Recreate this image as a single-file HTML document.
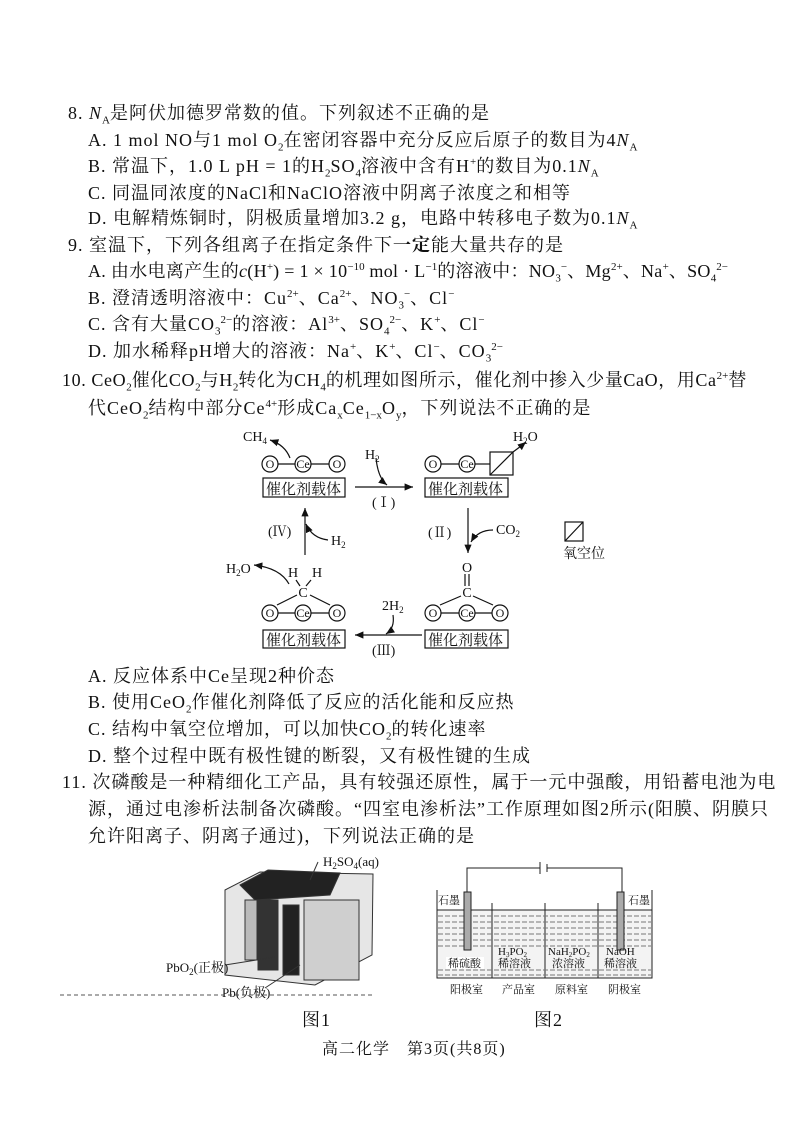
<!DOCTYPE html>
<html><head><meta charset="utf-8"><style>
body{margin:0;width:794px;height:1123px;background:#fff;position:relative;overflow:hidden;font-family:"Liberation Serif","Noto Serif CJK SC",serif;color:#111}
.t{position:absolute;font-size:18px;letter-spacing:1px;white-space:nowrap;line-height:20px}
sub,sup{font-size:11px;line-height:0;letter-spacing:0}
svg{position:absolute;left:0;top:0}
</style></head><body>
<div class="t" style="left:68px;top:103px">8. <i>N</i><sub>A</sub>是阿伏加德罗常数的值。下列叙述不正确的是</div>
<div class="t" style="left:88px;top:130px">A. 1 mol NO与1 mol O<sub>2</sub>在密闭容器中充分反应后原子的数目为4<i>N</i><sub>A</sub></div>
<div class="t" style="left:88px;top:156px">B. 常温下，1.0 L pH = 1的H<sub>2</sub>SO<sub>4</sub>溶液中含有H<sup>+</sup>的数目为0.1<i>N</i><sub>A</sub></div>
<div class="t" style="left:88px;top:183px">C. 同温同浓度的NaCl和NaClO溶液中阴离子浓度之和相等</div>
<div class="t" style="left:88px;top:208px">D. 电解精炼铜时，阴极质量增加3.2 g，电路中转移电子数为0.1<i>N</i><sub>A</sub></div>
<div class="t" style="left:68px;top:235px">9. 室温下，下列各组离子在指定条件下<b>一定</b>能大量共存的是</div>
<div class="t" style="left:88px;top:261px;letter-spacing:0.3px">A. 由水电离产生的<i>c</i>(H<sup>+</sup>) = 1 × 10<sup>−10</sup> mol · L<sup>−1</sup>的溶液中：NO<sub>3</sub><sup>−</sup>、Mg<sup>2+</sup>、Na<sup>+</sup>、SO<sub>4</sub><sup>2−</sup></div>
<div class="t" style="left:88px;top:288px">B. 澄清透明溶液中：Cu<sup>2+</sup>、Ca<sup>2+</sup>、NO<sub>3</sub><sup>−</sup>、Cl<sup>−</sup></div>
<div class="t" style="left:88px;top:314px">C. 含有大量CO<sub>3</sub><sup>2−</sup>的溶液：Al<sup>3+</sup>、SO<sub>4</sub><sup>2−</sup>、K<sup>+</sup>、Cl<sup>−</sup></div>
<div class="t" style="left:88px;top:341px">D. 加水稀释pH增大的溶液：Na<sup>+</sup>、K<sup>+</sup>、Cl<sup>−</sup>、CO<sub>3</sub><sup>2−</sup></div>
<div class="t" style="left:62px;top:370px;letter-spacing:0.6px">10. CeO<sub>2</sub>催化CO<sub>2</sub>与H<sub>2</sub>转化为CH<sub>4</sub>的机理如图所示，催化剂中掺入少量CaO，用Ca<sup>2+</sup>替</div>
<div class="t" style="left:88px;top:398px">代CeO<sub>2</sub>结构中部分Ce<sup>4+</sup>形成Ca<sub>x</sub>Ce<sub>1−x</sub>O<sub>y</sub>，下列说法不正确的是</div>
<div class="t" style="left:88px;top:666px">A. 反应体系中Ce呈现2种价态</div>
<div class="t" style="left:88px;top:692px">B. 使用CeO<sub>2</sub>作催化剂降低了反应的活化能和反应热</div>
<div class="t" style="left:88px;top:719px">C. 结构中氧空位增加，可以加快CO<sub>2</sub>的转化速率</div>
<div class="t" style="left:88px;top:746px">D. 整个过程中既有极性键的断裂，又有极性键的生成</div>
<div class="t" style="left:62px;top:772px">11. 次磷酸是一种精细化工产品，具有较强还原性，属于一元中强酸，用铅蓄电池为电</div>
<div class="t" style="left:88px;top:799px">源，通过电渗析法制备次磷酸。“四室电渗析法”工作原理如图2所示(阳膜、阴膜只</div>
<div class="t" style="left:88px;top:826px">允许阳离子、阴离子通过)，下列说法正确的是</div>
<div class="t" style="left:302px;top:1010px">图1</div>
<div class="t" style="left:534px;top:1010px">图2</div>
<div class="t" style="left:322px;top:1040px;font-size:16px">高二化学　第3页(共8页)</div>

<svg width="794" height="1123" font-family="Liberation Serif,Noto Serif CJK SC,serif" font-size="12">
<defs><marker id="a" markerWidth="8" markerHeight="8" refX="7" refY="4" orient="auto"><path d="M0,1 L7,4 L0,7 z" fill="#111"/></marker></defs>
<g stroke="#111" fill="none" stroke-width="1.2">
<rect x="263" y="478" width="82" height="19"/><rect x="425" y="478" width="83" height="19"/>
<rect x="263" y="630" width="82" height="18"/><rect x="425" y="630" width="83" height="18"/>
<circle cx="270" cy="464" r="8"/><circle cx="303" cy="464" r="8"/><circle cx="337" cy="464" r="8"/>
<line x1="278" y1="464" x2="295" y2="464"/><line x1="311" y1="464" x2="329" y2="464"/>
<circle cx="433" cy="464" r="8"/><circle cx="467" cy="464" r="8"/><line x1="441" y1="464" x2="459" y2="464"/><line x1="475" y1="464" x2="490" y2="464"/>
<rect x="490" y="452" width="23" height="23"/><line x1="490" y1="475" x2="513" y2="452"/>
<circle cx="270" cy="613" r="8"/><circle cx="303" cy="613" r="8"/><circle cx="337" cy="613" r="8"/>
<line x1="278" y1="613" x2="295" y2="613"/><line x1="311" y1="613" x2="329" y2="613"/>
<circle cx="433" cy="613" r="8"/><circle cx="467" cy="613" r="8"/><circle cx="500" cy="613" r="8"/>
<line x1="441" y1="613" x2="459" y2="613"/><line x1="475" y1="613" x2="492" y2="613"/>
<line x1="277" y1="605" x2="297" y2="595"/><line x1="330" y1="605" x2="310" y2="595"/>
<line x1="296" y1="580" x2="300" y2="586"/><line x1="311" y1="580" x2="306" y2="586"/>
<line x1="440" y1="605" x2="461" y2="596"/><line x1="493" y1="605" x2="473" y2="596"/>
<line x1="465" y1="574" x2="465" y2="586"/><line x1="469" y1="574" x2="469" y2="586"/>
<line x1="355" y1="487" x2="413" y2="487" marker-end="url(#a)"/>
<path d="M376 458 Q378 478 387 485" marker-end="url(#a)"/>
<line x1="468" y1="508" x2="468" y2="553" marker-end="url(#a)"/>
<path d="M493 530 Q478 530 471 542" marker-end="url(#a)"/>
<line x1="422" y1="635" x2="355" y2="635" marker-end="url(#a)"/>
<path d="M393 615 Q395 628 386 634" marker-end="url(#a)"/>
<line x1="305" y1="555" x2="305" y2="508" marker-end="url(#a)"/>
<path d="M328 540 Q312 538 306 524" marker-end="url(#a)"/>
<path d="M290 458 Q285 445 270 440" marker-end="url(#a)"/>
<path d="M513 452 Q520 447 526 442" marker-end="url(#a)"/>
<path d="M289 584 Q280 568 254 565" marker-end="url(#a)"/>
<rect x="565" y="522" width="18" height="19"/><line x1="565" y1="541" x2="583" y2="522"/>
</g>
<g fill="#111">
<text x="266" y="494" font-size="15">催化剂载体</text><text x="428" y="494" font-size="15">催化剂载体</text>
<text x="266" y="645" font-size="15">催化剂载体</text><text x="428" y="645" font-size="15">催化剂载体</text>
<g font-size="12" text-anchor="middle">
<text x="270" y="468">O</text><text x="303" y="468">Ce</text><text x="337" y="468">O</text>
<text x="433" y="468">O</text><text x="467" y="468">Ce</text>
<text x="270" y="617">O</text><text x="303" y="617">Ce</text><text x="337" y="617">O</text>
<text x="433" y="617">O</text><text x="467" y="617">Ce</text><text x="500" y="617">O</text>
</g>
<g font-size="14">
<text x="303" y="597" text-anchor="middle">C</text><text x="288" y="577">H</text><text x="312" y="577">H</text>
<text x="467" y="597" text-anchor="middle">C</text><text x="462" y="572">O</text>
<text x="243" y="441">CH<tspan font-size="9" dy="3">4</tspan></text>
<text x="513" y="441">H<tspan font-size="9" dy="3">2</tspan><tspan dy="-3">O</tspan></text>
<text x="226" y="573">H<tspan font-size="9" dy="3">2</tspan><tspan dy="-3">O</tspan></text>
<text x="365" y="459">H<tspan font-size="9" dy="3">2</tspan></text>
<text x="496" y="534">CO<tspan font-size="9" dy="3">2</tspan></text>
<text x="382" y="610">2H<tspan font-size="9" dy="3">2</tspan></text>
<text x="331" y="545">H<tspan font-size="9" dy="3">2</tspan></text>
<text x="372" y="507">(Ⅰ)</text><text x="428" y="537">(Ⅱ)</text><text x="372" y="655">(Ⅲ)</text><text x="268" y="536">(Ⅳ)</text>
<text x="563" y="558" font-size="14">氧空位</text>
</g>
</g>
<g stroke="#333" stroke-width="1">
<path d="M225 890 L260 872 L373 874 L372 955 L315 985 L225 975 Z" fill="#e6e6e6"/>
<path d="M240 885 L268 870 L340 873 L330 895 L255 900 Z" fill="#222"/>
<rect x="258" y="900" width="20" height="70" fill="#333"/>
<rect x="283" y="905" width="16" height="70" fill="#222"/>
<rect x="304" y="900" width="55" height="80" fill="#cfcfcf"/>
<rect x="245" y="900" width="12" height="60" fill="#bbb"/>
<line x1="275" y1="957" x2="225" y2="965"/><line x1="300" y1="965" x2="265" y2="988"/>
<line x1="318" y1="862" x2="310" y2="880"/>
</g>
<g font-size="13" fill="#111">
<text x="323" y="866">H<tspan font-size="9" dy="3">2</tspan><tspan dy="-3">SO</tspan><tspan font-size="9" dy="3">4</tspan><tspan dy="-3">(aq)</tspan></text>
<text x="166" y="972">PbO<tspan font-size="9" dy="3">2</tspan><tspan dy="-3">(正极)</tspan></text>
<text x="222" y="997">Pb(负极)</text>
</g>
<line x1="60" y1="995" x2="375" y2="995" stroke="#555" stroke-dasharray="4,3"/>
<g stroke="#222" stroke-width="1" fill="none">
<path d="M467 892 L467 868 L540 868 M547 868 L622 868 L622 892"/>
<line x1="540" y1="862" x2="540" y2="874"/><line x1="547" y1="864" x2="547" y2="872"/>
<rect x="437" y="910" width="215" height="68" fill="#f3f3f3"/>
<path d="M437 890 L437 978 L652 978 L652 890"/>
<line x1="492" y1="903" x2="492" y2="978"/><line x1="545" y1="903" x2="545" y2="978"/><line x1="598" y1="903" x2="598" y2="978"/>
</g>
<g stroke="#777" stroke-width="1" stroke-dasharray="5,2">
<line x1="438" y1="916" x2="651" y2="916"/><line x1="438" y1="922" x2="651" y2="922"/><line x1="438" y1="928" x2="651" y2="928"/>
<line x1="438" y1="934" x2="651" y2="934"/><line x1="438" y1="940" x2="651" y2="940"/><line x1="438" y1="946" x2="651" y2="946"/>
<line x1="438" y1="970" x2="651" y2="970"/><line x1="438" y1="975" x2="651" y2="975"/>
</g>
<rect x="464" y="892" width="7" height="58" fill="#aaa" stroke="#222"/>
<rect x="617" y="892" width="7" height="58" fill="#aaa" stroke="#222"/>
<g font-size="11" fill="#111">
<text x="438" y="904">石墨</text><text x="628" y="904">石墨</text>
<rect x="446" y="957" width="38" height="12" fill="#fff"/><text x="448" y="967">稀硫酸</text>
<text x="498" y="955">H<tspan font-size="7" dy="2">3</tspan><tspan dy="-2">PO</tspan><tspan font-size="7" dy="2">2</tspan></text><text x="498" y="967">稀溶液</text>
<text x="548" y="955">NaH<tspan font-size="7" dy="2">2</tspan><tspan dy="-2">PO</tspan><tspan font-size="7" dy="2">2</tspan></text><text x="552" y="967">浓溶液</text>
<text x="606" y="955">NaOH</text><text x="604" y="967">稀溶液</text>
<text x="450" y="993">阳极室</text><text x="502" y="993">产品室</text><text x="555" y="993">原料室</text><text x="608" y="993">阴极室</text>
</g>
</svg>
</body></html>
